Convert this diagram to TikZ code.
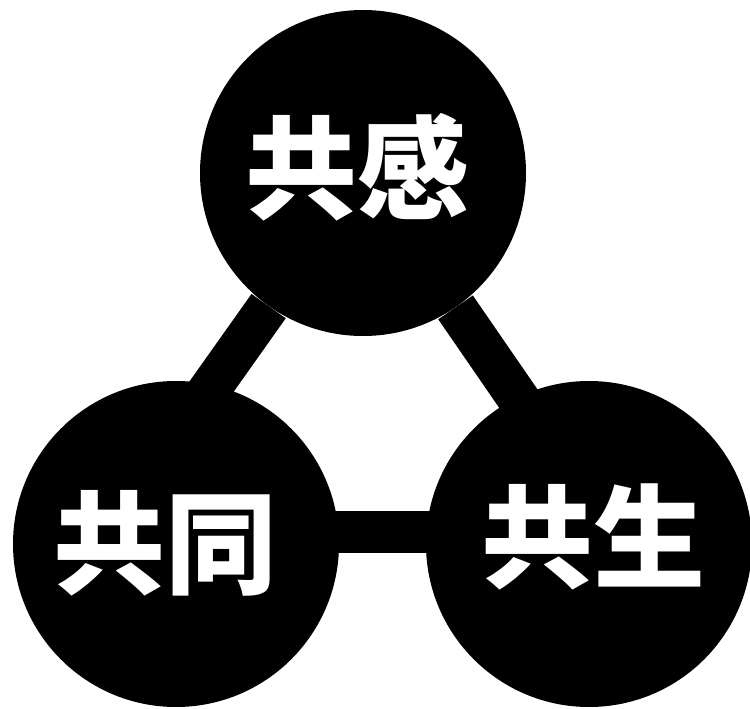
\documentclass[tikz,border=0pt]{standalone}
\usepackage{fontspec}
\newfontfamily\cjk{Noto Sans CJK JP}
\usetikzlibrary{calc,backgrounds}
\begin{document}
\begin{tikzpicture}[x=1pt,y=-1pt,
  ball/.style={circle, fill=black, minimum size=326pt, inner sep=0pt},
  lbl/.style={text=white, font=\cjk\bfseries\fontsize{112}{112}\selectfont, inner sep=0pt},
  link/.style={line width=42pt, draw=black}]
\useasboundingbox (0,0) rectangle (750,709);
\node[ball] (top) at (363,173) {};
\node[ball] (left) at (176,544) {};
\node[ball] (right) at (589,544) {};
\coordinate (hl) at ($(left)+(0,-12)$);
\coordinate (hr) at ($(right)+(0,-12)$);
\begin{pgfonlayer}{background}
  \draw[link] (top) -- ($(top)!1.2!(left.77)$);
  \draw[link] (top) -- ($(top)!1.2!(right.116)$);
  \draw[link] (hl) -- (hr);
\end{pgfonlayer}
\node[lbl] (ttop) at (357,167) {共感};
\node[lbl] (tleft) at (165,543) {共同};
\node[lbl] (tright) at (593,537) {共生};
\end{tikzpicture}
\end{document}
